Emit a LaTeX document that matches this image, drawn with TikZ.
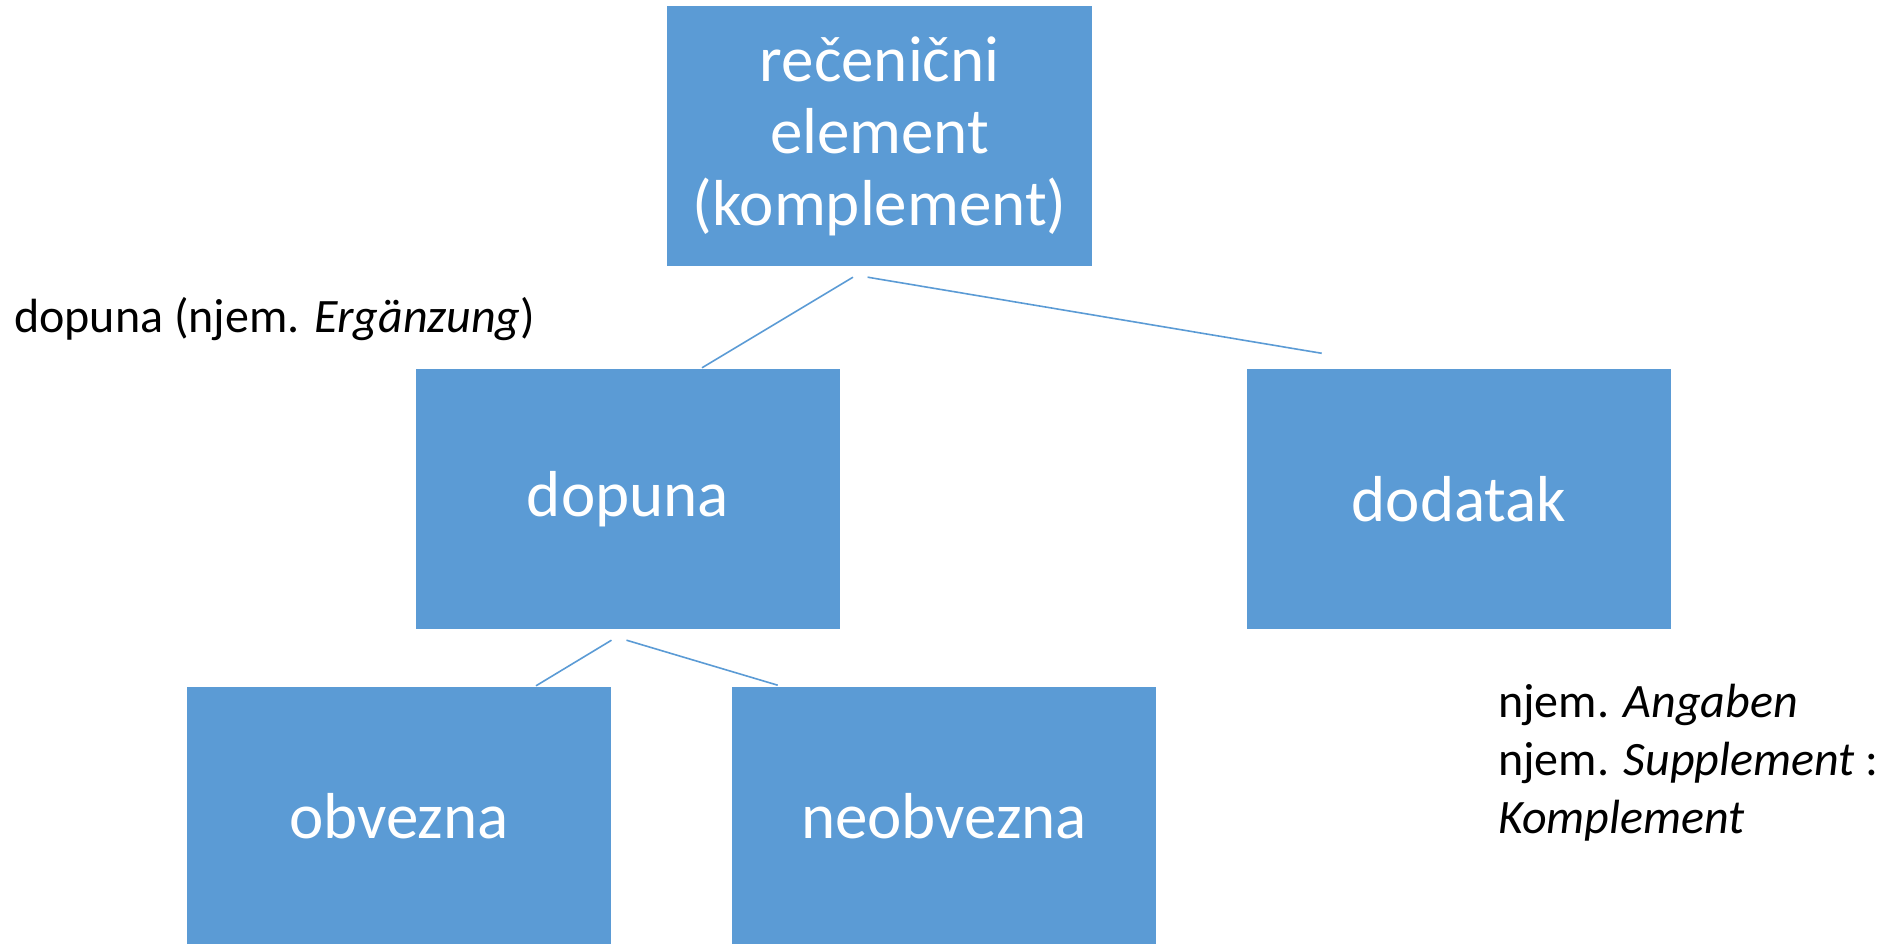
\documentclass[tikz,border=0pt]{standalone}
\usepackage{fontspec}
\setmainfont{Carlito}
\usetikzlibrary{calc}
\definecolor{boxblue}{HTML}{5B9BD5}
\begin{document}
\begin{tikzpicture}[x=1pt,y=-1pt,
  box/.style={fill=boxblue, minimum width=424.5pt, minimum height=260pt, inner sep=0pt, text=white, font=\fontsize{65}{72}\selectfont, align=center},
  link/.style={draw=boxblue, line width=1.6pt},
  note/.style={anchor=base west, inner sep=0pt, font=\fontsize{48}{58}\selectfont}]
\useasboundingbox (0,0) rectangle (1879,944);
\node[box] (top) at (879.6,136) {rečenični\\element\\(komplement)};
\node[box] (dop) at (628,499) {dopuna};
\node[box] (dod) at (1459,499) {dodatak};
\node[box] (obv) at (399,816.6) {obvezna};
\node[box] (neo) at (944,816.6) {neobvezna};
\coordinate (t1) at ($(top.south)+(-26.6,11)$);
\coordinate (t2) at ($(top.south)+(-12,11)$);
\coordinate (e1) at ($(dop.north)+(74,-1)$);
\coordinate (e2) at ($(dod.north)+(-137.3,-15.5)$);
\coordinate (d1) at ($(dop.south)+(-16.5,11)$);
\coordinate (d2) at ($(dop.south)+(-1.5,11)$);
\coordinate (f1) at ($(obv.north)+(137,-0.6)$);
\coordinate (f2) at ($(neo.north)+(-166.3,-1.2)$);
\draw[link] (t1) -- (e1);
\draw[link] (t2) -- (e2);
\draw[link] (d1) -- (f1);
\draw[link] (d2) -- (f2);
\node[note] (lab1) at (14,332) {dopuna (njem. \textit{Ergänzung})};
\node[note] (lab2) at (1498,717) {\begin{tabular}[t]{@{}l@{}}njem. \textit{Angaben}\\njem. \textit{Supplement} :\\\textit{Komplement}\end{tabular}};
\end{tikzpicture}
\end{document}
